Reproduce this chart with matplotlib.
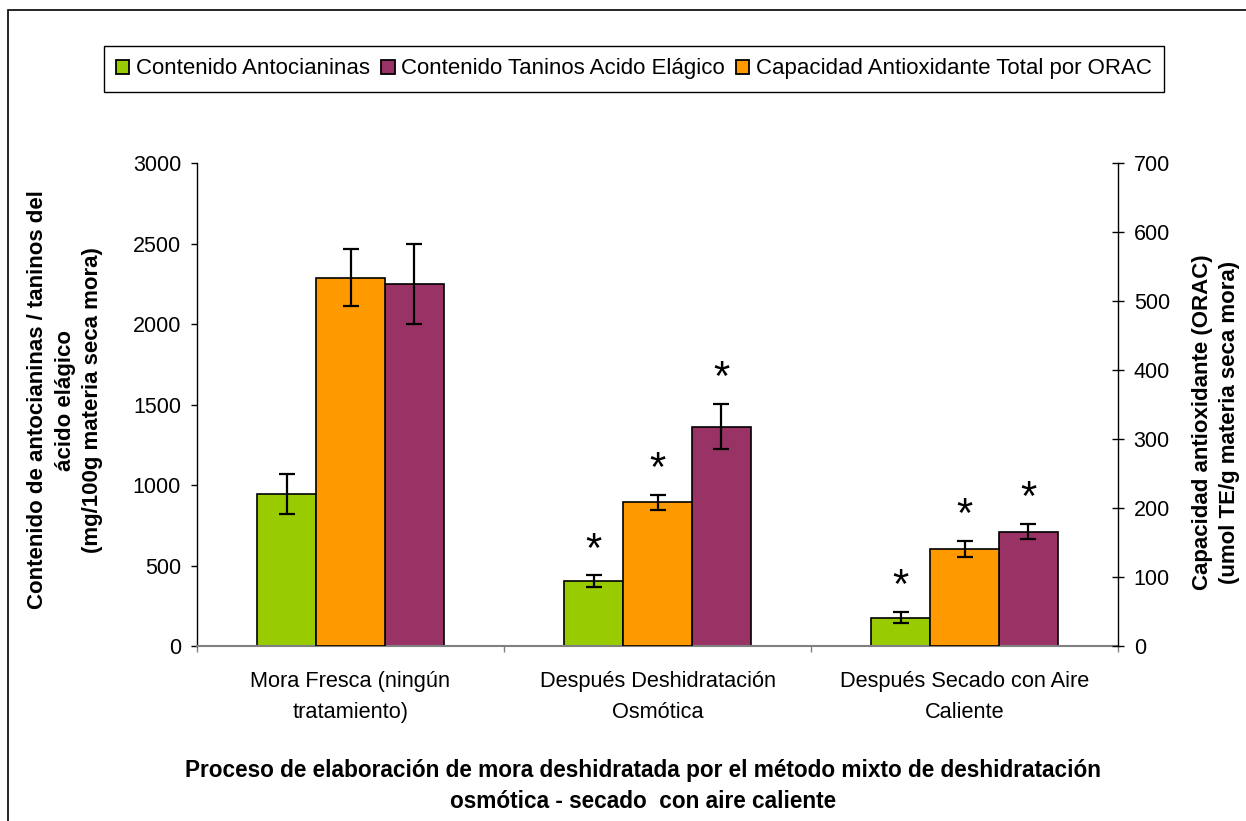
import numpy as np
import matplotlib.pyplot as plt
from matplotlib.patches import Patch, Rectangle

plt.rcParams['font.family'] = ['Liberation Sans', 'DejaVu Sans']

# Data: contents per stage of the process
categorias = ['Mora Fresca (ningún\ntratamiento)',
              'Después Deshidratación\nOsmótica',
              'Después Secado con Aire\nCaliente']
antocianinas = [942, 403, 175]
antocianinas_err = [125, 35, 35]
taninos = [2248, 1362, 711]
taninos_err = [250, 140, 48]
orac = [534, 208, 141]
orac_err = [41.5, 11, 11.7]
# significance marks (vs. fresh fruit)
sig_antocianinas = ['', '*', '*']
sig_taninos = ['', '*', '*']
sig_orac = ['', '*', '*']

verde = '#99CC00'
morado = '#993366'
naranja = '#FF9900'

W, H = 1246, 821
fig = plt.figure(figsize=(W / 100, H / 100), dpi=100)
ax1 = fig.add_axes([197 / W, 175 / H, 921 / W, 483 / H])
ax2 = ax1.twinx()

x = np.arange(len(categorias))
w_side = 0.195
w_mid = 0.2215
off = (w_side + w_mid) / 2

err_kw = dict(ecolor='black', elinewidth=1.6, capsize=5.5, capthick=1.6)
ax1.bar(x - off, antocianinas, w_side, color=verde, edgecolor='black', linewidth=1.2,
        yerr=antocianinas_err, error_kw=err_kw, zorder=2)
ax1.bar(x + off, taninos, w_side, color=morado, edgecolor='black', linewidth=1.2,
        yerr=taninos_err, error_kw=err_kw, zorder=2)
ax2.bar(x, orac, w_mid, color=naranja, edgecolor='black', linewidth=1.2,
        yerr=orac_err, error_kw=err_kw, zorder=2)


def marcar(ax, xs, vals, errs, marks):
    for xi, v, e, m in zip(xs, vals, errs, marks):
        if m:
            ax.annotate(m, xy=(xi, v + e), xytext=(0, 10), textcoords='offset points',
                        ha='center', va='baseline', fontsize=30)


marcar(ax1, x - off, antocianinas, antocianinas_err, sig_antocianinas)
marcar(ax1, x + off, taninos, taninos_err, sig_taninos)
marcar(ax2, x, orac, orac_err, sig_orac)

# axes
ax1.set_xlim(-0.5, 2.5)
ax1.set_ylim(0, 3000)
ax1.set_yticks(np.arange(0, 3001, 500))
ax2.set_ylim(0, 700)
ax2.set_yticks(np.arange(0, 701, 100))

ax1.set_xticks(x)
ax1.set_xticklabels(categorias, fontsize=15.7, linespacing=1.65)
ax1.set_xticks(np.arange(-0.5, 3, 1), minor=True)
ax1.tick_params(axis='x', which='major', length=0, pad=18)
ax1.tick_params(axis='x', which='minor', length=4.5, width=1, color='#808080')
ax1.tick_params(axis='y', direction='out', length=4.5, width=1, pad=7, labelsize=15.5)
ax2.tick_params(axis='y', direction='inout', length=8.6, width=1, pad=7, labelsize=15.5)

for ax in (ax1, ax2):
    ax.spines['top'].set_visible(False)
ax1.spines['right'].set_visible(False)
ax2.spines['left'].set_visible(False)
ax2.spines['bottom'].set_visible(False)
ax1.spines['bottom'].set_color('#808080')
ax1.spines['bottom'].set_linewidth(1.5)
ax1.spines['left'].set_linewidth(1.0)
ax2.spines['right'].set_linewidth(1.0)

# axis titles
fig.text(65 / W, 1 - 400 / H,
         'Contenido de antocianinas / taninos del\nácido elágico\n(mg/100g materia seca mora)',
         rotation=90, ha='center', va='center', multialignment='center',
         fontsize=16, fontweight='bold', linespacing=1.4)
fig.text(1216 / W, 1 - 422 / H,
         'Capacidad antioxidante (ORAC)\n(umol TE/g materia seca mora)',
         rotation=90, ha='center', va='center', multialignment='center',
         fontsize=16, fontweight='bold', linespacing=1.4)
fig.text(643 / W, 1 - 786 / H,
         'Proceso de elaboración de mora deshidratada por el método mixto de deshidratación\n'
         'osmótica - secado  con aire caliente',
         ha='center', va='center', multialignment='center',
         fontsize=16.3, fontweight='bold', linespacing=1.45)

# legend
handles = [Patch(facecolor=verde, edgecolor='black', linewidth=1.3),
           Patch(facecolor=morado, edgecolor='black', linewidth=1.3),
           Patch(facecolor=naranja, edgecolor='black', linewidth=1.3)]
labels = ['Contenido Antocianinas', 'Contenido Taninos Acido Elágico',
          'Capacidad Antioxidante Total por ORAC']
leg = fig.legend(handles, labels, loc='center', bbox_to_anchor=(634 / W, 1 - 69 / H),
                 ncol=3, fontsize=16, frameon=True, fancybox=False, edgecolor='black',
                 framealpha=1, handlelength=0.6, handleheight=0.6, handletextpad=0.3,
                 columnspacing=0.5, borderpad=0.55, borderaxespad=0)
leg.get_frame().set_linewidth(1.0)

# outer chart border
fig.patches.append(Rectangle((8 / W, -0.1), 1.2, 1.1 - 10 / H, transform=fig.transFigure,
                             fill=False, edgecolor='black', linewidth=1.2))

fig.savefig('out.png', dpi=100)
